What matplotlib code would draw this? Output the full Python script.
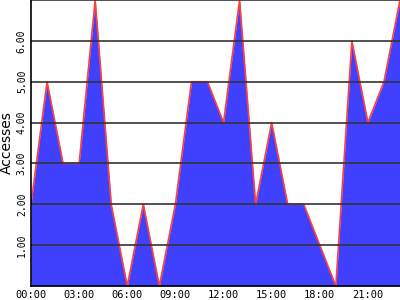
import numpy as np
import matplotlib
matplotlib.use("Agg")
import matplotlib.pyplot as plt

hours = list(range(24))
accesses = [2, 5, 3, 3, 7, 2, 0, 2, 0, 2, 5, 5, 4, 7, 2, 4, 2, 2, 1, 0, 6, 4, 5, 7]
tick_hours = [0, 3, 6, 9, 12, 15, 18, 21]
tick_labels = ["%02d:00" % h for h in tick_hours]
y_ticks = [1, 2, 3, 4, 5, 6]

fig = plt.figure(figsize=(4, 3), dpi=100)
ax = fig.add_axes([31 / 400, 14 / 300, 369 / 400, 286 / 300])

ax.fill_between(hours, accesses, 0, color="#4040ff", linewidth=0, zorder=2)
ax.plot(hours, accesses, color="#ff4040", linewidth=1.2, zorder=3)

for v in range(1, 8):
    ax.axhline(v, color="#333333", linewidth=1.2, zorder=4)

ax.set_xlim(0, 23)
ax.set_ylim(0, 7)
ax.set_xticks(tick_hours)
ax.set_xticklabels(tick_labels, family="DejaVu Sans Mono", fontsize=7.5)
ax.set_yticks(y_ticks)
ax.set_yticklabels(["%.2f" % v for v in y_ticks], family="DejaVu Sans Mono",
                   fontsize=7, rotation=90, va="center")
ax.tick_params(length=0, pad=3)

for s in ["top", "right"]:
    ax.spines[s].set_visible(False)
ax.spines["left"].set_linewidth(1.2)
ax.spines["bottom"].set_linewidth(1.2)
ax.spines["left"].set_zorder(5)
ax.spines["bottom"].set_zorder(5)

fig.text(7 / 400, 1 - 143 / 300, "Accesses", rotation=90, fontsize=10,
         ha="center", va="center")

fig.savefig("out.png", dpi=100)
